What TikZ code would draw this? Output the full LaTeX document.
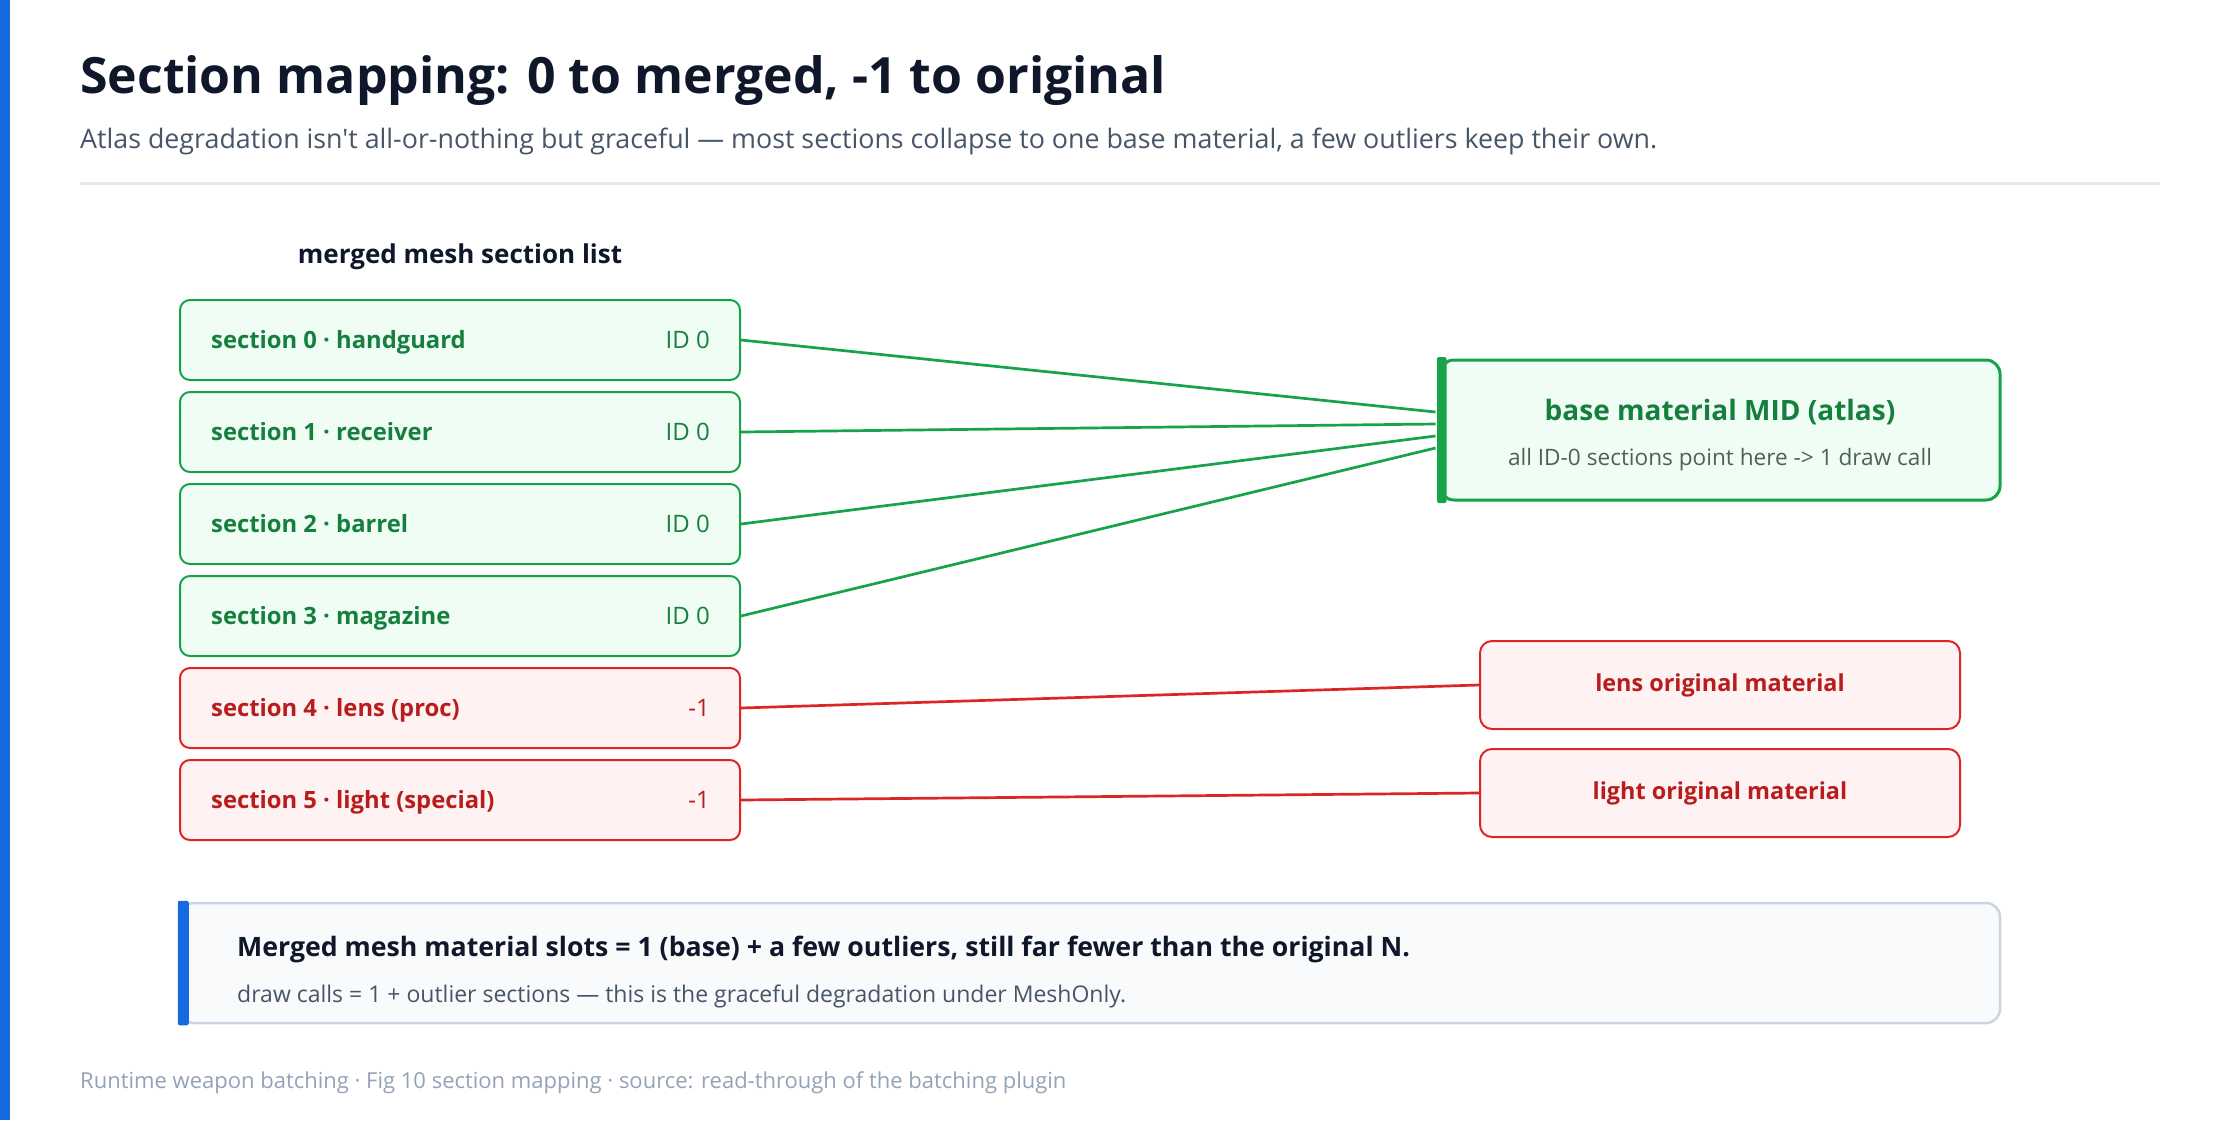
\documentclass[tikz,border=0pt]{standalone}
\usepackage{fontspec}
\setmainfont{Open Sans}[Ligatures=TeXOff]
\usetikzlibrary{calc}
\definecolor{ink}{HTML}{0F172A}
\definecolor{slate}{HTML}{475569}
\definecolor{rulec}{HTML}{E2E8F0}
\definecolor{foot}{HTML}{94A3B8}
\definecolor{accent}{HTML}{1769E0}
\definecolor{gline}{HTML}{16A34A}
\definecolor{gfill}{HTML}{F0FDF4}
\definecolor{gtext}{HTML}{15803D}
\definecolor{gsub}{HTML}{4B6354}
\definecolor{rline}{HTML}{DC2626}
\definecolor{rfill}{HTML}{FEF2F2}
\definecolor{rtext}{HTML}{B91C1C}
\definecolor{sumfill}{HTML}{F8FAFC}
\definecolor{sumline}{HTML}{CBD5E1}
\newcommand{\fs}[1]{\fontsize{#1}{#1}\selectfont}
\begin{document}
\begin{tikzpicture}[x=1pt,y=-1pt,
  txt/.style={inner sep=0pt, anchor=base west},
  gbox/.style={draw=gline, fill=gfill, line width=2pt, rounded corners=10pt, minimum width=560pt, minimum height=80pt, inner sep=0pt},
  rbox/.style={draw=rline, fill=rfill, line width=2pt, rounded corners=10pt, minimum width=560pt, minimum height=80pt, inner sep=0pt},
  obox/.style={draw=rline, fill=rfill, line width=2pt, rounded corners=12pt, minimum width=480pt, minimum height=88pt, inner sep=0pt, text=rtext, font=\fs{23.4}\bfseries},
  glink/.style={draw=gline, line width=2.7pt},
  rlink/.style={draw=rline, line width=2.7pt},
  slab/.style={txt, font=\fs{23.8}\bfseries},
  sid/.style={inner sep=0pt, anchor=base east, font=\fs{24}}
]
\useasboundingbox (0,0) rectangle (2240,1120);
\fill[white] (0,0) rectangle (2240,1120);
\fill[accent] (0,0) rectangle (10,1120);

% header
\node[txt, text=ink, font=\fs{50}\bfseries] (title) at (80,93) {Section mapping: 0 to merged, -1 to original};
\node[txt, text=slate, font=\fs{26.8}] (subtitle) at (80,148) {Atlas degradation isn't all-or-nothing but graceful — most sections collapse to one base material, a few outliers keep their own.};
\fill[rulec] (80,181.5) rectangle (2160,184.5);

\node[inner sep=0pt, anchor=base, text=ink, font=\fs{26}\bfseries] (listhead) at (460,263) {merged mesh section list};

% section boxes
\node[gbox] (s0) at (460,340) {};
\node[gbox] (s1) at (460,432) {};
\node[gbox] (s2) at (460,524) {};
\node[gbox] (s3) at (460,616) {};
\node[rbox] (s4) at (460,708) {};
\node[rbox] (s5) at (460,800) {};

\node[slab, text=gtext] (t0) at (211,348.5) {section 0 · handguard};
\node[slab, text=gtext] (t1) at (211,440.5) {section 1 · receiver};
\node[slab, text=gtext] (t2) at (211,532.5) {section 2 · barrel};
\node[slab, text=gtext] (t3) at (211,624.5) {section 3 · magazine};
\node[slab, text=rtext] (t4) at (211,716.5) {section 4 · lens (proc)};
\node[slab, text=rtext] (t5) at (211,808.5) {section 5 · light (special)};

\node[sid, text=gtext] (i0) at (710,348.5) {ID 0};
\node[sid, text=gtext] (i1) at (710,440.5) {ID 0};
\node[sid, text=gtext] (i2) at (710,532.5) {ID 0};
\node[sid, text=gtext] (i3) at (710,624.5) {ID 0};
\node[sid, text=rtext] (i4) at (710,716.5) {-1};
\node[sid, text=rtext] (i5) at (710,808.5) {-1};

% base material box
\node[draw=gline, fill=gfill, line width=3pt, rounded corners=14pt, minimum width=560pt, minimum height=140pt, inner sep=0pt] (base) at (1720,430) {};
\fill[gline, rounded corners=2pt] ($(base.north west)+(-1.5,-1.5)$) rectangle ($(base.south west)+(8,1.5)$);
\node[inner sep=0pt, anchor=base, text=gtext, font=\fs{28}\bfseries] (basetitle) at (1720,420) {base material MID (atlas)};
\node[inner sep=0pt, anchor=base, text=gsub, font=\fs{22.6}] (basesub) at (1720,465) {all ID-0 sections point here -> 1 draw call};

% outlier boxes
\node[obox] (lens) at (1720,685) {lens original material};
\node[obox] (light) at (1720,793) {light original material};

% connectors
\draw[glink] (s0.east) -- ($(base.west)+(-3,-18)$);
\draw[glink] (s1.east) -- ($(base.west)+(-3,-6)$);
\draw[glink] (s2.east) -- ($(base.west)+(-3,6)$);
\draw[glink] (s3.east) -- ($(base.west)+(-3,18)$);
\draw[rlink] (s4.east) -- (lens.west);
\draw[rlink] (s5.east) -- (light.west);

% summary box
\node[draw=sumline, fill=sumfill, line width=2.5pt, rounded corners=14pt, minimum width=1820pt, minimum height=120pt, inner sep=0pt] (summary) at (1090,963) {};
\fill[accent, rounded corners=2pt] ($(summary.north west)+(-1,-1)$) rectangle ($(summary.south west)+(10,1)$);
\node[txt, text=ink, font=\fs{26.7}\bfseries] (sumtitle) at (237,956) {Merged mesh material slots = 1 (base) + a few outliers, still far fewer than the original N.};
\node[txt, text=slate, font=\fs{23}] (sumsub) at (237,1002) {draw calls = 1 + outlier sections — this is the graceful degradation under MeshOnly.};

% footer
\node[txt, text=foot, font=\fs{22}] (footer) at (80,1088) {Runtime weapon batching · Fig 10 section mapping · source: read-through of the batching plugin};
\end{tikzpicture}
\end{document}
